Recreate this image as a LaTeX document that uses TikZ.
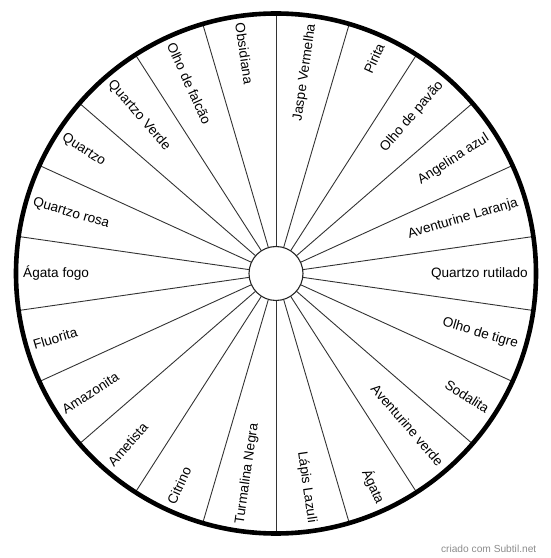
\documentclass[tikz,border=0pt]{standalone}
\usepackage{fontspec}
\setmainfont{Liberation Sans}
\usetikzlibrary{calc}

\tikzset{
  gemlabel/.style={inner sep=0pt, font=\fontsize{13.6}{16}\selectfont},
  spoke/.style={line width=0.9pt, black!80},
  footer/.style={inner sep=0pt, font=\fontsize{10.2}{12}\selectfont, text=black!45}
}

\begin{document}
\begin{tikzpicture}[x=1pt,y=1pt]
\useasboundingbox (0,0) rectangle (550,558);
\coordinate (C) at (276,284.5);
\begin{scope}[shift={(C)}]
% spokes
\foreach \k in {0,...,21}
  \draw[spoke] (90+\k*360/22:27) -- (90+\k*360/22:259);
\draw[line width=1.1pt, black!85, fill=white] (0,0) circle (27);
\draw[line width=4.6pt] (0,0) circle (260);
% stone names
\foreach \lab [count=\i] in {Jaspe Vermelha,Pirita,Olho de pavão,Angelina azul,
  Aventurine Laranja,Quartzo rutilado,Olho de tigre,Sodalita,Aventurine verde,
  Ágata,Lápis Lazuli,Turmalina Negra,Citrino,Ametista,Amazonita,Fluorita,
  Ágata fogo,Quartzo rosa,Quartzo,Quartzo Verde,Olho de falcão,Obsidiana}{
  \pgfmathsetmacro{\ang}{90-(\i-0.5)*360/22}
  \ifnum\i<12
    \node[gemlabel, anchor=east, rotate=\ang] (gem\i) at (\ang:252) {\lab};
  \else
    \pgfmathsetmacro{\rot}{\ang+180}
    \node[gemlabel, anchor=west, rotate=\rot] (gem\i) at (\ang:253) {\lab};
  \fi
}
\end{scope}
\node[footer, anchor=east] (credit) at (536.5,9) {criado com Subtil.net};
\end{tikzpicture}
\end{document}
